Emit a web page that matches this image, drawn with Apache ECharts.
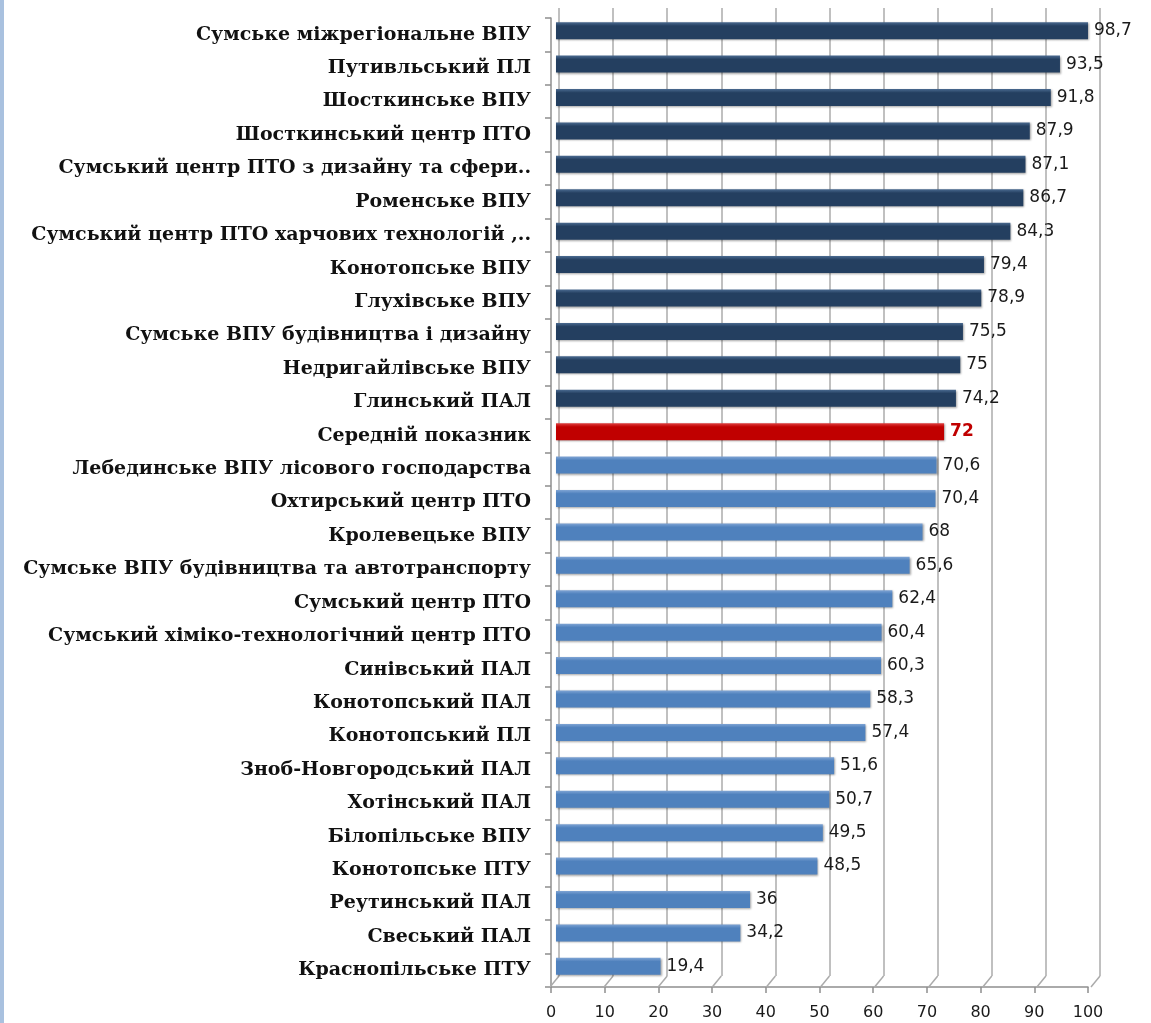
<!DOCTYPE html>
<html>
<head>
<meta charset="utf-8">
<script src="https://cdn.jsdelivr.net/npm/echarts@6/dist/echarts.min.js"></script>
<style>
  html, body { margin: 0; padding: 0; background: #ffffff; }
  #chart { width: 1151px; height: 1023px; }
</style>
</head>
<body>
<div id="chart"></div>
<script>
const categories = [
  'Сумське міжрегіональне ВПУ',
  'Путивльський ПЛ',
  'Шосткинське ВПУ',
  'Шосткинський центр ПТО',
  'Сумський центр ПТО з дизайну та сфери..',
  'Роменське ВПУ',
  'Сумський центр ПТО харчових технологій ,..',
  'Конотопське ВПУ',
  'Глухівське ВПУ',
  'Сумське ВПУ будівництва і дизайну',
  'Недригайлівське ВПУ',
  'Глинський ПАЛ',
  'Середній показник',
  'Лебединське ВПУ лісового господарства',
  'Охтирський центр ПТО',
  'Кролевецьке ВПУ',
  'Сумське ВПУ будівництва та автотранспорту',
  'Сумський центр ПТО',
  'Сумський хіміко-технологічний центр ПТО',
  'Синівський ПАЛ',
  'Конотопський ПАЛ',
  'Конотопський ПЛ',
  'Зноб-Новгородський ПАЛ',
  'Хотінський ПАЛ',
  'Білопільське ВПУ',
  'Конотопське ПТУ',
  'Реутинський ПАЛ',
  'Свеський ПАЛ',
  'Краснопільське ПТУ'
];
const values = [98.7, 93.5, 91.8, 87.9, 87.1, 86.7, 84.3, 79.4, 78.9, 75.5, 75, 74.2, 72,
  70.6, 70.4, 68, 65.6, 62.4, 60.4, 60.3, 58.3, 57.4, 51.6, 50.7, 49.5, 48.5, 36, 34.2, 19.4];
const averageName = 'Середній показник';
const xTicks = [0, 10, 20, 30, 40, 50, 60, 70, 80, 90, 100];

const avgValue = values[categories.indexOf(averageName)];
const colAbove = '#243F60', colAvg = '#C00000', colBelow = '#4F81BD';
function grad(c, light) {
  return new echarts.graphic.LinearGradient(0, 0, 0, 1, [
    { offset: 0, color: light }, { offset: 0.22, color: c }, { offset: 1, color: c }
  ]);
}
const barData = values.map((v, i) => {
  const isAvg = categories[i] === averageName;
  const c = isAvg ? colAvg : (v > avgValue ? colAbove : colBelow);
  const light = isAvg ? '#e04040' : (v > avgValue ? '#4a6a90' : '#7fa4d4');
  return {
    value: v,
    itemStyle: { color: grad(c, light), shadowColor: 'rgba(0,0,0,0.35)', shadowBlur: 2, shadowOffsetX: 1, shadowOffsetY: 1 },
    label: isAvg ? { color: '#C00000', fontWeight: 'bold' } : undefined
  };
});

const chart = echarts.init(document.getElementById('chart'), null, { renderer: 'canvas' });
const gridColor = '#ababab';
const option = {
  animation: false,
  backgroundColor: '#ffffff',
  graphic: [
    { type: 'rect', shape: { x: 0, y: 0, width: 4, height: 1023 }, style: { fill: '#a9c1df' }, silent: true }
  ],
  grid: [
    { left: 556, right: 56, top: 14, height: 969 },   // bars (middle depth)
    { left: 551, right: 63, top: 18, height: 969 },   // front frame + labels
    { left: 559, right: 51, top: 8, height: 968 }     // back wall gridlines
  ],
  xAxis: [
    { gridIndex: 0, type: 'value', min: 0, max: 100, interval: 10, show: false },
    { gridIndex: 1, type: 'value', min: 0, max: 100, interval: 10,
      axisLine: { show: true, lineStyle: { color: '#8f8f8f', width: 1.5 } },
      axisTick: { show: true, length: 6, lineStyle: { color: '#8f8f8f', width: 1.5 } },
      splitLine: { show: false },
      axisLabel: { margin: 18, color: '#1a1a1a', fontFamily: 'DejaVu Sans', fontSize: 16 } },
    { gridIndex: 2, type: 'value', min: 0, max: 100, interval: 10,
      axisLine: { show: false }, axisTick: { show: false }, axisLabel: { show: false },
      splitLine: { show: true, lineStyle: { color: gridColor, width: 1.5 } } }
  ],
  yAxis: [
    { gridIndex: 0, type: 'category', data: categories, inverse: true, show: false },
    { gridIndex: 1, type: 'category', data: categories, inverse: true,
      axisLine: { show: true, lineStyle: { color: '#8f8f8f', width: 1.5 } },
      axisTick: { show: true, length: 6, lineStyle: { color: '#8f8f8f', width: 1.5 } },
      axisLabel: { margin: 20, color: '#111111', fontFamily: 'DejaVu Serif', fontWeight: 'bold', fontSize: 19 } },
    { gridIndex: 2, type: 'category', data: categories, inverse: true, show: false }
  ],
  series: [
    {
      type: 'custom', xAxisIndex: 2, yAxisIndex: 2, silent: true, z: 1,
      data: xTicks,
      renderItem: function (params, api) {
        const p = api.coord([api.value(0), categories[categories.length - 1]]);
        const yBottom = p[1] + api.size([0, 1])[1] / 2;
        return {
          type: 'line',
          shape: { x1: p[0], y1: yBottom, x2: p[0] - 9, y2: yBottom + 11 },
          style: { stroke: gridColor, lineWidth: 1.5 }
        };
      },
      encode: { x: 0 }
    },
    {
      type: 'bar', xAxisIndex: 0, yAxisIndex: 0, z: 3,
      data: barData,
      barWidth: 17,
      label: {
        show: true, position: 'right', distance: 6,
        color: '#1a1a1a', fontFamily: 'DejaVu Sans', fontSize: 17,
        formatter: p => String(p.value).replace('.', ',')
      }
    }
  ]
};
chart.setOption(option);
</script>
</body>
</html>
